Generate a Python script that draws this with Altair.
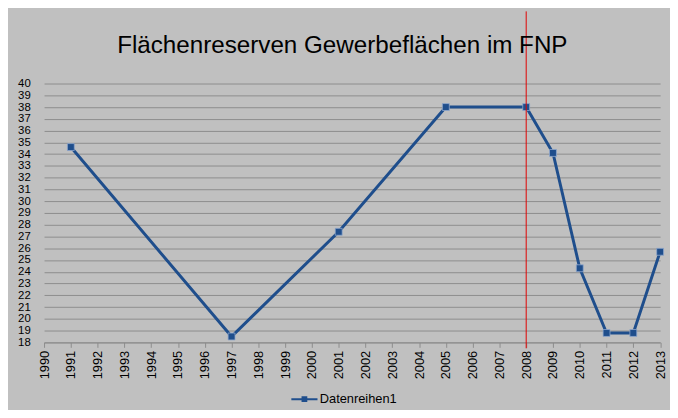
import altair as alt
import pandas as pd

# Data
years = [1991, 1997, 2001, 2005, 2008, 2009, 2010, 2011, 2012, 2013]
values = [34.6, 18.5, 27.4, 38.0, 38.0, 34.1, 24.3, 18.8, 18.8, 25.7]
series_name = "Datenreihen1"
x_ticks = list(range(1990, 2014))
y_ticks = list(range(18, 41))
marker_year = [2008]

title_text = "Flächenreserven Gewerbeflächen im FNP"

df = pd.DataFrame({"Jahr": years, "Wert": values, "Reihe": [series_name] * len(years)})
df_rule = pd.DataFrame({"Jahr": marker_year})

LINE_BLUE = "#1f4e8c"
FONT = "Liberation Sans"

x_scale = alt.Scale(domain=[1990, 2013], nice=False, zero=False)
y_scale = alt.Scale(domain=[18, 40], nice=False, zero=False)

x_axis = alt.Axis(values=x_ticks, format="d", title=None, labelAngle=-90,
                  labelFlush=False, grid=False, domain=True, domainColor="#8c8c8c",
                  ticks=True, tickColor="#8c8c8c", tickSize=5, labelPadding=3,
                  labelFontSize=13, labelColor="#000000", labelFont=FONT,
                  labelOverlap=False, tickCount=24)
y_axis = alt.Axis(values=y_ticks, title=None, domain=False, ticks=False,
                  labelPadding=14, grid=True, gridColor="#8c8c8c", gridWidth=1,
                  labelFontSize=11.5, labelColor="#000000", labelFont=FONT,
                  labelOverlap=False, tickCount=23)

legend_symbol = ("M-1,-0.08L1,-0.08L1,0.08L-1,0.08Z "
                 "M-0.22,-0.22L0.22,-0.22L0.22,0.22L-0.22,0.22Z")

X = alt.X("Jahr:Q", scale=x_scale, axis=x_axis)
Y = alt.Y("Wert:Q", scale=y_scale, axis=y_axis)

line = alt.Chart(df).mark_line(strokeWidth=3).encode(
    x=X,
    y=Y,
    color=alt.Color("Reihe:N", scale=alt.Scale(range=[LINE_BLUE]),
                    legend=alt.Legend(title=None, orient="none", legendX=250, legendY=306,
                                      symbolType=legend_symbol, symbolSize=700,
                                      symbolStrokeWidth=0, symbolFillColor=LINE_BLUE,
                                      labelFontSize=13, labelFont=FONT, labelColor="#000000",
                                      labelOffset=2)),
)

points = alt.Chart(df).mark_point(shape="square", filled=True, size=49, opacity=1,
                                  stroke="#8fa8cc", strokeWidth=0.8,
                                  color=LINE_BLUE).encode(x=X, y=Y)

rule = alt.Chart(df_rule).mark_rule(color="#e00000", strokeWidth=1).encode(
    x=X,
    y=alt.value(-73),
    y2=alt.value(268),
)

chart = alt.layer(line, points, rule).properties(
    width=623.5,
    height=262,
    title=alt.TitleParams(title_text, fontSize=24.5, font=FONT, fontWeight="normal",
                          color="#000000", anchor="middle", frame="bounds", offset=-48),
    autosize=alt.AutoSizeParams(type="none"),
    padding={"left": 36.5, "top": 74, "right": 10, "bottom": 66},
    background="#c0c0c0",
).configure_view(stroke=None)

chart.save("out.html", embed_options={"renderer": "svg", "actions": False})
